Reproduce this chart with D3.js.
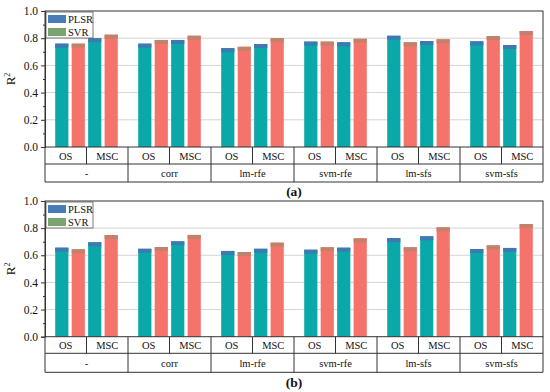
<!DOCTYPE html>
<html><head><meta charset="utf-8">
<script src="https://cdn.jsdelivr.net/npm/d3@7"></script>
<style>body{margin:0;background:#fff}svg{display:block}text{font-family:"Liberation Serif","Times New Roman",Times,serif;fill:#111}</style>
</head><body>
<script>
const groups = ["-", "corr", "lm-rfe", "svm-rfe", "lm-sfs", "svm-sfs"];
const subgroups = ["OS", "MSC"];
const series = ["PLSR", "SVR"];
const yTicks = [0.0, 0.2, 0.4, 0.6, 0.8, 1.0];
// order per group: OS-PLSR, OS-SVR, MSC-PLSR, MSC-SVR
const panelA_PLSR = [0.76, 0.80, 0.76, 0.787, 0.727, 0.757, 0.775, 0.77, 0.818, 0.779, 0.777, 0.75];
const panelA_SVR  = [0.76, 0.826, 0.787, 0.818, 0.737, 0.80, 0.775, 0.796, 0.77, 0.792, 0.816, 0.853];
const panelB_PLSR = [0.656, 0.696, 0.648, 0.703, 0.632, 0.648, 0.641, 0.656, 0.727, 0.74, 0.646, 0.654];
const panelB_SVR  = [0.644, 0.749, 0.661, 0.75, 0.624, 0.693, 0.659, 0.725, 0.659, 0.806, 0.673, 0.83];
const panelLabels = ["(a)", "(b)"];

const FONT = '"Liberation Serif", "Times New Roman", Times, serif';
const W = 550, H = 392;
const svg = d3.select("body").append("svg").attr("width", W).attr("height", H);
const left = 45, right = 543;
const bodyCol = {PLSR: "#0aa8a8", SVR: "#f4736b"};
const capCol = {PLSR: "#3f78b2", SVR: "#c0826a"};
const legCol = {PLSR: "#4a7db5", SVR: "#7aa46f"};

const panels = [
  {top: 11, bottom: 147, r1: 164, r2: 182, lab: 191, plsr: panelA_PLSR, svr: panelA_SVR},
  {top: 201, bottom: 336.7, r1: 353.3, r2: 372.3, lab: 382, plsr: panelB_PLSR, svr: panelB_SVR}
];

const x0 = d3.scaleBand().domain(groups).range([left, right]);
const inner = d3.scaleBand().domain(["OS-PLSR","OS-SVR","MSC-PLSR","MSC-SVR"]).range([0, x0.bandwidth()]).paddingInner(0.2).paddingOuter(0.62);
const xSub = d3.scaleBand().domain(subgroups).range([0, x0.bandwidth()]);

panels.forEach((p, pi) => {
  const g = svg.append("g");
  const y = d3.scaleLinear().domain([0, 1]).range([p.bottom, p.top]);
  g.selectAll("line.grid").data(yTicks.filter(t => t > 0 && t < 1)).join("line")
    .attr("x1", left).attr("x2", right).attr("y1", d => y(d)).attr("y2", d => y(d))
    .attr("stroke", "#d4d4d4").attr("stroke-width", 1);
  const data = [];
  groups.forEach((gr, gi) => {
    subgroups.forEach((sg, si) => {
      data.push({gr, key: sg + "-PLSR", s: "PLSR", v: p.plsr[gi * 2 + si]});
      data.push({gr, key: sg + "-SVR", s: "SVR", v: p.svr[gi * 2 + si]});
    });
  });
  const bw = inner.bandwidth();
  const bars = g.selectAll("g.bar").data(data).join("g");
  bars.append("rect")
    .attr("x", d => x0(d.gr) + inner(d.key)).attr("width", bw)
    .attr("y", d => y(d.v)).attr("height", d => y(0) - y(d.v))
    .attr("fill", d => bodyCol[d.s]);
  bars.append("rect")
    .attr("x", d => x0(d.gr) + inner(d.key)).attr("width", bw)
    .attr("y", d => y(d.v)).attr("height", 4)
    .attr("fill", d => capCol[d.s]);
  g.append("rect").attr("x", left).attr("y", p.top).attr("width", right - left).attr("height", p.bottom - p.top)
    .attr("fill", "none").attr("stroke", "#333").attr("stroke-width", 1);
  const ax = g.append("g").attr("transform", `translate(${left},0)`)
    .call(d3.axisLeft(y).tickValues(yTicks).tickFormat(d3.format(".1f")).tickSize(4).tickPadding(3));
  ax.attr("font-family", null).attr("font-size", null);
  ax.select(".domain").attr("stroke", "#333");
  ax.selectAll(".tick line").attr("stroke", "#333");
  ax.selectAll("text").style("font-size", "11.5px").style("font-family", FONT).attr("fill", "#111");
  const axm = g.append("g").attr("transform", `translate(${left},0)`)
    .call(d3.axisLeft(y).tickValues(d3.range(0.1, 1, 0.2)).tickFormat("").tickSize(2));
  axm.select(".domain").remove();
  axm.selectAll(".tick line").attr("stroke", "#333");
  const yl = g.append("text").attr("transform", `translate(15,${(p.top + p.bottom) / 2}) rotate(-90)`)
    .attr("text-anchor", "middle").style("font-size", "13px");
  yl.append("tspan").text("R");
  yl.append("tspan").attr("dy", -5).style("font-size", "8px").text("2");
  const tl = (x1, y1, x2, y2) => g.append("line").attr("x1", x1).attr("y1", y1).attr("x2", x2).attr("y2", y2)
    .attr("stroke", "#333").attr("stroke-width", 1);
  tl(left, p.bottom, left, p.r2);
  tl(right, p.bottom, right, p.r2);
  tl(left, p.r1, right, p.r1);
  tl(left, p.r2, right, p.r2);
  groups.forEach(gr => {
    const gx = x0(gr);
    if (gx > left + 1) tl(gx, p.bottom, gx, p.r2);
    const mx = gx + xSub("MSC");
    tl(mx, p.bottom, mx, p.r1);
    subgroups.forEach(sg => {
      g.append("text").attr("x", gx + xSub(sg) + xSub.bandwidth() / 2).attr("y", (p.bottom + p.r1) / 2 + 4)
        .attr("text-anchor", "middle").style("font-size", "10.5px").text(sg);
    });
    g.append("text").attr("x", gx + x0.bandwidth() / 2).attr("y", (p.r1 + p.r2) / 2 + 4)
      .attr("text-anchor", "middle").style("font-size", "10.5px").text(gr);
  });
  g.append("text").attr("x", (left + right) / 2).attr("y", p.lab + 5).attr("text-anchor", "middle")
    .style("font-size", "13.5px").style("font-weight", "bold").text(panelLabels[pi]);
  const lg = g.append("g").attr("transform", `translate(46,${p.top + 1})`);
  lg.append("rect").attr("width", 47).attr("height", 26).attr("fill", "#fff").attr("stroke", "#555").attr("stroke-width", 0.8);
  series.forEach((s, i) => {
    lg.append("rect").attr("x", 2).attr("y", 3 + i * 13).attr("width", 18).attr("height", 8).attr("fill", legCol[s]);
    lg.append("text").attr("x", 22).attr("y", 11 + i * 13).style("font-size", "10.5px").text(s);
  });
});
</script>
</body></html>
